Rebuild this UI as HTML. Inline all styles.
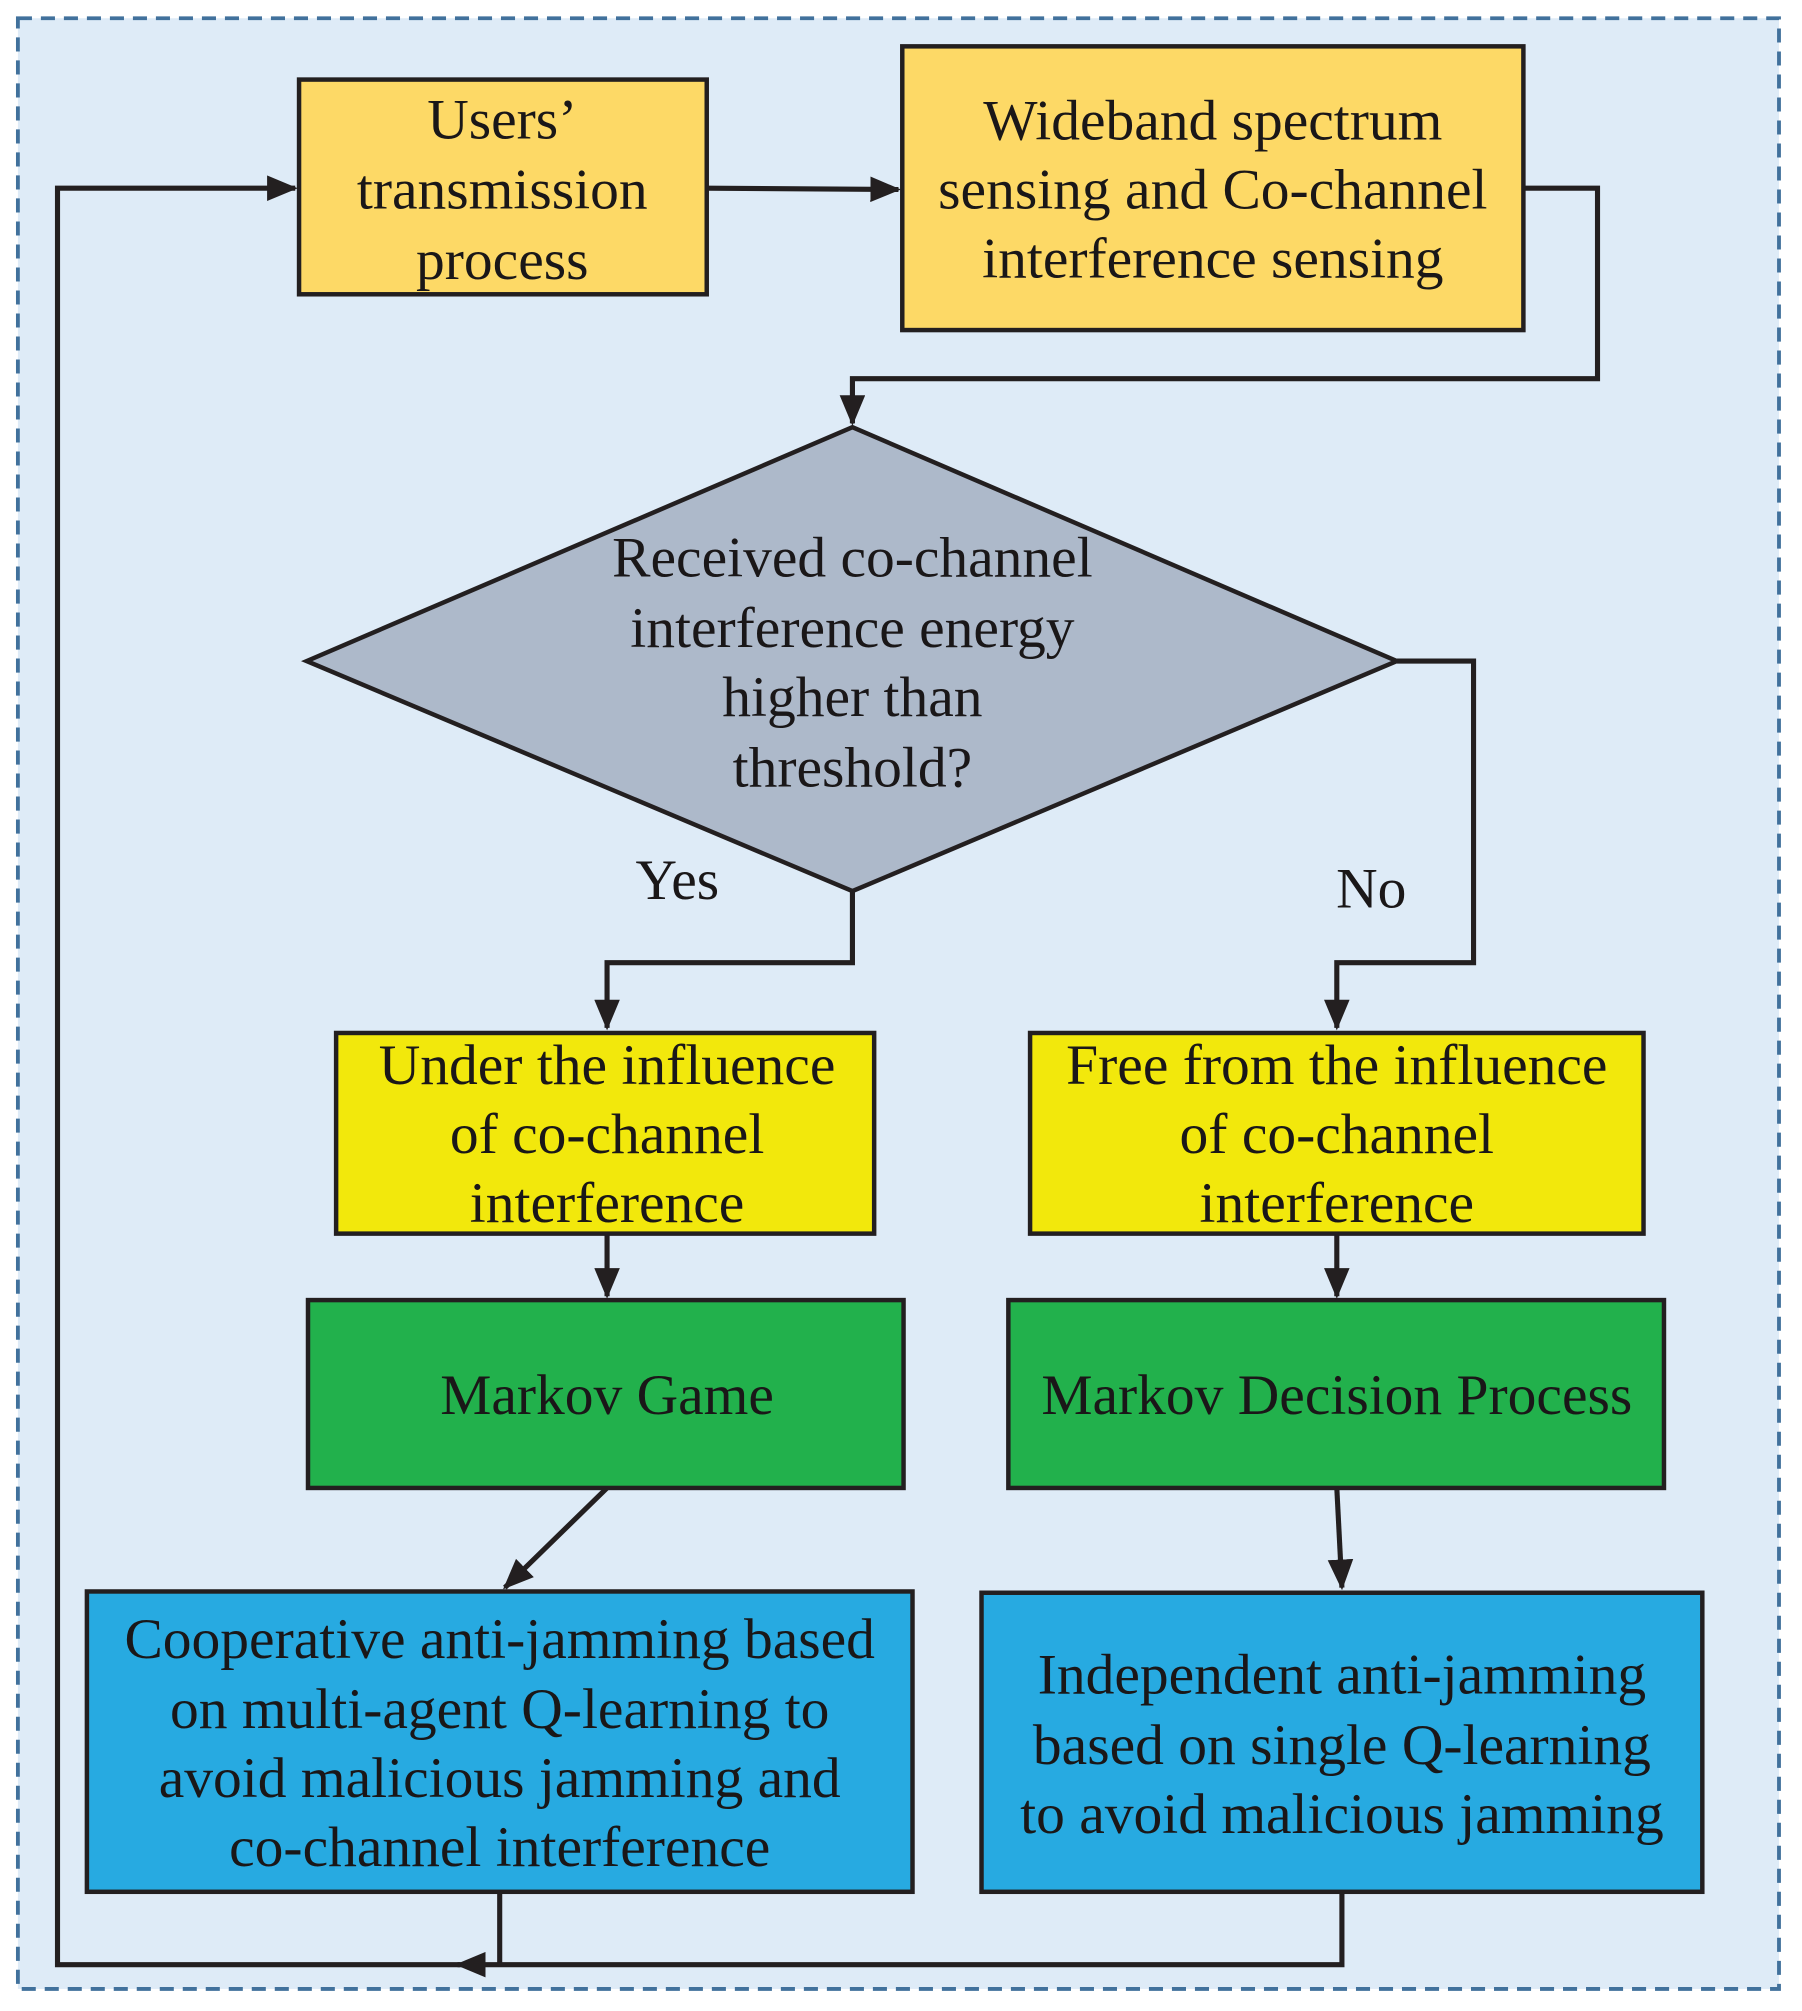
<!DOCTYPE html>
<html><head><style>html,body{margin:0;padding:0;background:#fff}svg{display:block}</style></head>
<body>
<svg width="1802" height="2011" viewBox="0 0 1410 1573" xmlns="http://www.w3.org/2000/svg" font-family="Liberation Serif, serif" font-size="45" fill="#1a1718">
<defs><marker id="a" markerWidth="6" markerHeight="5" refX="5.5" refY="2.5" orient="auto" markerUnits="strokeWidth"><path d="M0,0 L6,2.5 L0,5 Z" fill="#231f20"/></marker></defs>
<rect x="14" y="14" width="1378" height="1542" fill="#deebf7" stroke="#41719c" stroke-width="3" stroke-dasharray="11,7"/>
<g stroke="#231f20" stroke-width="4" fill="none">
<polyline points="553,147 703,148" marker-end="url(#a)"/>
<polyline points="1192,147 1250,147 1250,296 667,296 667,331" marker-end="url(#a)"/>
<polyline points="667,697 667,753 475,753 475,804" marker-end="url(#a)"/>
<polyline points="1093,517 1153,517 1153,753 1046,753 1046,804" marker-end="url(#a)"/>
<polyline points="475,965 475,1014" marker-end="url(#a)"/>
<polyline points="1046,965 1046,1014" marker-end="url(#a)"/>
<polyline points="475,1164 395,1242" marker-end="url(#a)"/>
<polyline points="1046,1164 1050,1242" marker-end="url(#a)"/>
<polyline points="391,1480 391,1537"/>
<polyline points="1050,1480 1050,1537 358,1537" marker-end="url(#a)"/>
<polyline points="360,1537 45,1537 45,147 231,147" marker-end="url(#a)"/>
</g>
<g stroke="#231f20" stroke-width="3.5">
<rect x="234" y="62" width="319" height="168" fill="#fdd966"/>
<rect x="706" y="36" width="486" height="222" fill="#fdd966"/>
<polygon points="667,334 1093,517 667,697 240,517" fill="#adb9ca"/>
<rect x="263" y="808" width="421" height="157" fill="#f2e80c"/>
<rect x="806" y="808" width="480" height="157" fill="#f2e80c"/>
<rect x="241" y="1017" width="466" height="147" fill="#22b14c"/>
<rect x="789" y="1017" width="513" height="147" fill="#22b14c"/>
<rect x="68" y="1245" width="646" height="235" fill="#27aae1"/>
<rect x="768" y="1246" width="564" height="234" fill="#27aae1"/>
</g>
<g text-anchor="middle">
<text x="393" y="108">Users’</text><text x="393" y="163">transmission</text><text x="393" y="218">process</text>
<text x="949" y="109">Wideband spectrum</text><text x="949" y="163">sensing and Co-channel</text><text x="949" y="217">interference sensing</text>
<text x="667" y="451">Received co-channel</text><text x="667" y="506">interference energy</text><text x="667" y="560">higher than</text><text x="667" y="615">threshold?</text>
<text x="530" y="703">Yes</text><text x="1073" y="710">No</text>
<text x="475" y="848">Under the influence</text><text x="475" y="902">of co-channel</text><text x="475" y="956">interference</text>
<text x="1046" y="848">Free from the influence</text><text x="1046" y="902">of co-channel</text><text x="1046" y="956">interference</text>
<text x="475" y="1106">Markov Game</text>
<text x="1046" y="1106">Markov Decision Process</text>
<text x="391" y="1297">Cooperative anti-jamming based</text><text x="391" y="1352">on multi-agent Q-learning to</text><text x="391" y="1406">avoid malicious jamming and</text><text x="391" y="1460">co-channel interference</text>
<text x="1050" y="1325">Independent anti-jamming</text><text x="1050" y="1380">based on single Q-learning</text><text x="1050" y="1434">to avoid malicious jamming</text>
</g>
</svg>
</body></html>
